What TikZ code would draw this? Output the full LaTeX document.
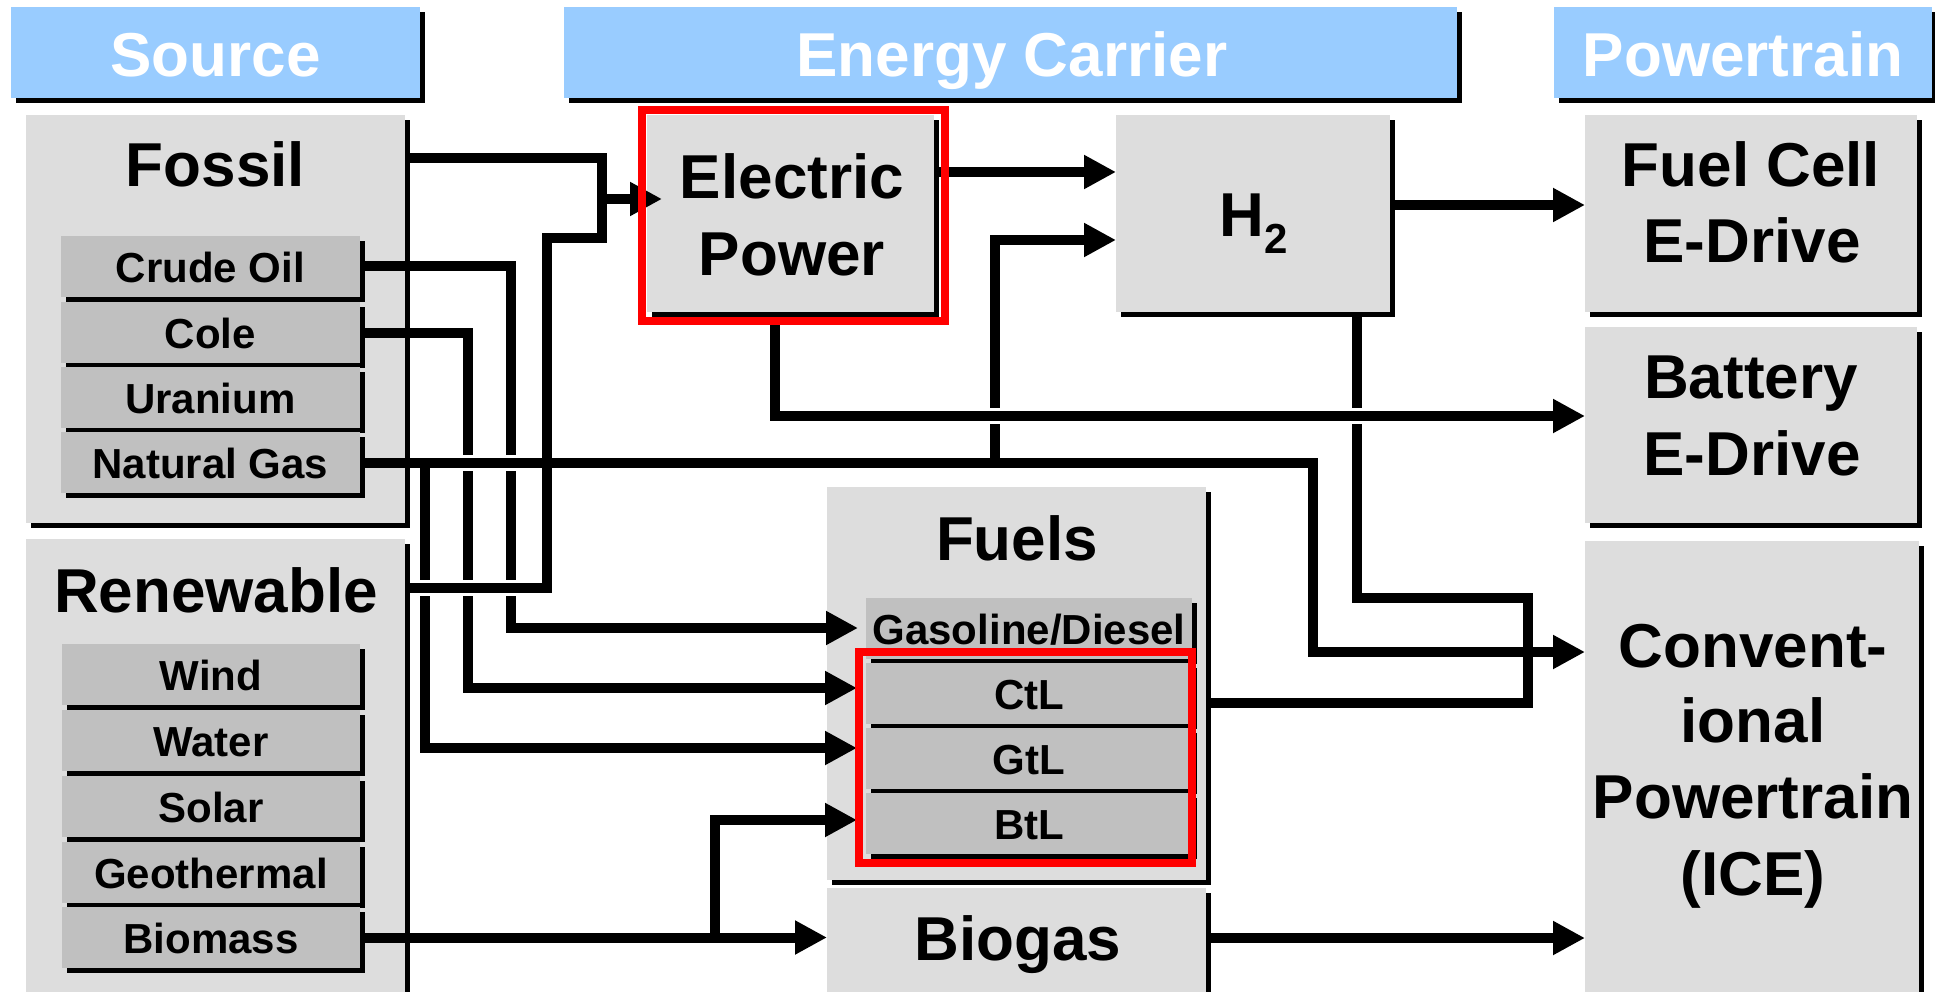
\documentclass[tikz,border=0pt]{standalone}
\usepackage{fontspec}
\setmainfont{Liberation Sans}
\usetikzlibrary{arrows.meta,shadows}
\definecolor{hblue}{RGB}{153,204,255}
\definecolor{bgray}{RGB}{221,221,221}
\definecolor{sgray}{RGB}{192,192,192}
\definecolor{fred}{RGB}{255,0,0}
\newcommand{\BigTxt}{\fontsize{62}{62}\selectfont\bfseries}
\newcommand{\SmallTxt}{\fontsize{42}{42}\selectfont\bfseries}
\tikzset{
  shad/.style={drop shadow={shadow xshift=5pt,shadow yshift=-5pt,fill=black,opacity=1}},
  hdr/.style={fill=hblue, shad, inner sep=0pt, outer sep=0pt},
  bbox/.style={fill=bgray, shad, inner sep=0pt, outer sep=0pt},
  sbox/.style={fill=sgray, shad, inner sep=0pt, outer sep=0pt, minimum height=61pt,
     text height=32pt, text depth=0pt, font=\SmallTxt},
  big/.style={font=\BigTxt, anchor=base, inner sep=0pt, outer sep=0pt},
  conn/.style={line width=10pt, draw=black},
  arr/.style={conn, -{Triangle[length=32pt,width=32pt]}},
  bridge/.style={line width=16pt, draw=white},
  frame/.style={draw=fred, line width=8pt},
}
\begin{document}
\begin{tikzpicture}[x=1pt,y=-1pt,line join=miter]
\clip (0,0) rectangle (1935,992);
\fill[white] (0,0) rectangle (1935,992);
% headers
\node[hdr, minimum width=409pt, minimum height=91pt] (srcH) at (215.5,52.5) {};
\node[hdr, minimum width=893pt, minimum height=91pt] (carH) at (1010.5,52.5) {};
\node[hdr, minimum width=378pt, minimum height=91pt] (ptH) at (1743,52.5) {};
\node[big, text=white] (srcT) at (215.5,77) {Source};
\node[big, text=white] (carT) at (1012,77) {Energy Carrier};
\node[big, text=white] (ptT) at (1743,77) {Powertrain};
% big boxes
\node[bbox, minimum width=379pt, minimum height=408pt] (fossil) at (215.5,319) {};
\node[bbox, minimum width=379pt, minimum height=471pt] (renew) at (215.5,774.5) {};
\node[bbox, minimum width=287pt, minimum height=197pt] (elec) at (790.5,213.5) {};
\node[bbox, minimum width=274pt, minimum height=197pt] (h2) at (1253,213.5) {};
\node[bbox, minimum width=332pt, minimum height=197pt] (fuelcell) at (1751,213.5) {};
\node[bbox, minimum width=332pt, minimum height=196pt] (battery) at (1751,425) {};
\node[bbox, minimum width=334pt, minimum height=469pt] (conv) at (1752,775.5) {};
\node[bbox, minimum width=379pt, minimum height=393pt] (fuels) at (1016.5,683.5) {};
\node[bbox, minimum width=379pt, minimum height=122pt] (biogas) at (1016.5,949) {};
% sub boxes
\node[sbox, minimum width=299pt] (crude) at (210.5,266.5) {Crude Oil};
\node[sbox, minimum width=299pt] (cole) at (210.5,332.5) {Cole};
\node[sbox, minimum width=299pt] (uran) at (210.5,397.5) {Uranium};
\node[sbox, minimum width=299pt] (natgas) at (210.5,462.5) {Natural Gas};
\node[sbox, minimum width=298pt] (wind) at (211,674.5) {Wind};
\node[sbox, minimum width=298pt] (water) at (211,740.5) {Water};
\node[sbox, minimum width=298pt] (solar) at (211,806.5) {Solar};
\node[sbox, minimum width=298pt] (geo) at (211,872.5) {Geothermal};
\node[sbox, minimum width=298pt] (biomass) at (211,937.5) {Biomass};
\node[sbox, minimum width=326pt] (gasol) at (1029,628.5) {Gasoline/Diesel};
\node[sbox, minimum width=326pt] (ctl) at (1029,693.5) {CtL};
\node[sbox, minimum width=326pt] (gtl) at (1029,758.5) {GtL};
\node[sbox, minimum width=326pt] (btl) at (1029,823.5) {BtL};
% big texts
\node[big] (fossilT) at (215.5,187) {Fossil};
\node[big] (renewT) at (216,612) {Renewable};
\node[big] (elecT1) at (792,199) {Electric};
\node[big] (elecT2) at (792,276) {Power};
\node[big] (h2T) at (1254,237) {H\raisebox{-17pt}{\SmallTxt 2}};
\node[big] (fcT1) at (1751,187) {Fuel Cell};
\node[big] (fcT2) at (1752,263) {E-Drive};
\node[big] (batT1) at (1751,398) {Battery};
\node[big] (batT2) at (1752,475) {E-Drive};
\node[big] (convT1) at (1753,667) {Convent-};
\node[big] (convT2) at (1753,742) {ional};
\node[big] (convT3) at (1753,818) {Powertrain};
\node[big] (convT4) at (1753,895) {(ICE)};
\node[big] (fuelsT) at (1017,560) {Fuels};
\node[big] (biogasT) at (1018,960) {Biogas};
% connectors
\coordinate (fJ) at (602,199);
\draw[conn] (fossil.east |- 0,158) -| (602,243);
\draw[conn] (renew.east |- 0,588) -| (547,238) -- (602,238);
\draw[arr, shorten >=-15pt] (fJ) -- (elec.west |- fJ);
\draw[arr] (crude.east) -| (511,628) -- (858,628);
\draw[arr] (cole.east) -| (468,688) -- (857,688);
\draw[arr] (natgas.east) -| (1313,652) -- (conv.west |- 0,652);
\draw[arr] (425,462.5) |- (857,748);
\draw[arr] (995,462.5) |- (h2.west |- 0,240);
\draw[arr] (elec.east |- 0,172) -- (h2.west |- 0,172);
\draw[arr] (elec.south -| 775,0) |- (battery.west |- 0,416);
\draw[arr] (h2.east |- 0,205) -- (fuelcell.west |- 0,205);
\draw[conn] (h2.south -| 1357,0) |- (1528,598) |- (fuels.east |- 0,703);
\draw[arr] (biomass.east) -- (biogas.west |- biomass.east);
\draw[arr] (715,937.5) |- (857,820);
\draw[arr] (biogas.east |- 0,938) -- (conv.west |- 0,938);
% bridges over crossings
\draw[bridge] (455,462.5) -- (524,462.5);
\draw[conn] (455,462.5) -- (524,462.5);
\draw[bridge] (413,588) -- (524,588);
\draw[conn] (413,588) -- (524,588);
\draw[bridge] (983,416) -- (1007,416);
\draw[conn] (983,416) -- (1007,416);
\draw[bridge] (1345,416) -- (1369,416);
\draw[conn] (1345,416) -- (1369,416);
% red frames
\draw[frame] (642,110) rectangle (944.5,321);
\draw[frame] (859,652) rectangle (1192,863);
\end{tikzpicture}
\end{document}
